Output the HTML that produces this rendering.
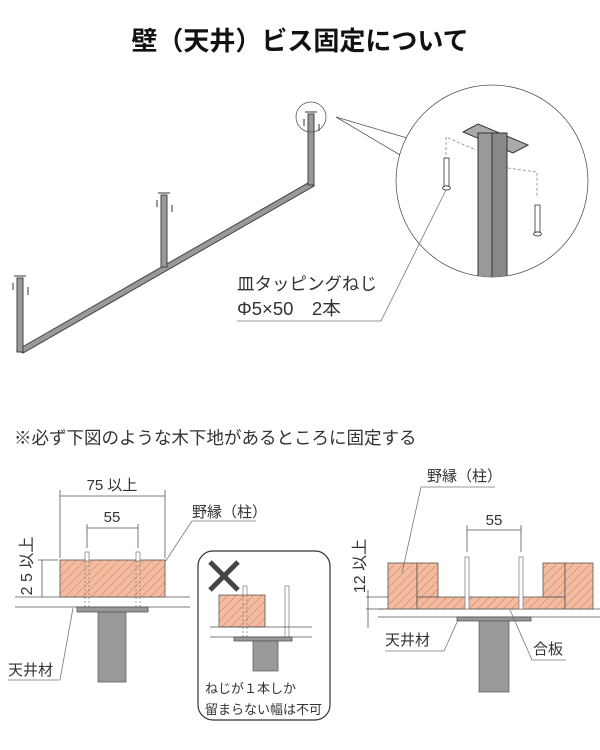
<!DOCTYPE html>
<html><head><meta charset="utf-8"><style>
body{margin:0;background:#fff}
svg{display:block}
text{font-family:"Liberation Sans","Noto Sans CJK JP",sans-serif;fill:#333}
</style></head><body>
<svg width="600" height="750" viewBox="0 0 600 750" xmlns="http://www.w3.org/2000/svg">
<defs>
<pattern id="h" width="6" height="6" patternUnits="userSpaceOnUse" patternTransform="rotate(45)">
<rect width="6" height="6" fill="#f3bca0"/><line x1="0" y1="0" x2="0" y2="6" stroke="#b86a4a" stroke-width="0.8"/>
</pattern>
<clipPath id="cc"><circle cx="492" cy="181" r="96"/></clipPath>
</defs>
<text x="300" y="50" text-anchor="middle" font-size="26" font-weight="bold" style="fill:#111">壁（天井）ビス固定について</text>

<!-- frame -->
<g stroke="#444" stroke-width="1" fill="#999">
<polygon points="17,350 308,183 314,186 23,353"/>
<rect x="17" y="278" width="6" height="74"/>
<rect x="161" y="195" width="6" height="72"/>
<rect x="308" y="114" width="6" height="71"/>
</g>
<g stroke="#333" stroke-width="1">
<line x1="14" y1="276" x2="26" y2="276"/><line x1="13" y1="283" x2="13" y2="290"/><line x1="28" y1="287" x2="28" y2="295"/>
<line x1="158" y1="193" x2="170" y2="193"/><line x1="157" y1="200" x2="157" y2="207"/><line x1="172" y1="205" x2="172" y2="212"/>
<line x1="305" y1="112" x2="317" y2="112"/><line x1="304" y1="119" x2="304" y2="126"/><line x1="319" y1="124" x2="319" y2="131"/>
</g>
<circle cx="311" cy="117" r="15" fill="none" stroke="#555" stroke-width="0.8"/>
<polyline points="336,117 407,138" fill="none" stroke="#555" stroke-width="0.8"/>
<polyline points="336,117 400,155" fill="none" stroke="#555" stroke-width="0.8"/>
<circle cx="492" cy="181" r="96" fill="#fff" stroke="#555" stroke-width="0.8"/>
<g clip-path="url(#cc)">
<polygon points="463,132 478,124 528,145 513,153" fill="#aaa" stroke="#333"/>
<rect x="478" y="133" width="14" height="150" fill="#999" stroke="#333"/>
<rect x="492" y="133" width="15" height="150" fill="#888" stroke="#333"/>
</g>
<g stroke="#888" stroke-dasharray="3,2" fill="none" stroke-width="0.8">
<polyline points="446,175 446,137 476,150"/><polyline points="508,168 537,172 537,198"/>
</g>
<g stroke="#333" fill="#fff" stroke-width="0.8">
<rect x="444" y="158" width="5" height="28"/><ellipse cx="446.5" cy="188" rx="4" ry="2"/>
<rect x="535" y="205" width="5" height="27"/><ellipse cx="537.5" cy="234" rx="4" ry="2"/>
</g>
<text x="237" y="290" font-size="17.5">皿タッピングねじ</text>
<text x="237" y="315" font-size="18.5">Φ5×50　2本</text>
<polyline points="237,321 381,321 446,190" fill="none" stroke="#777" stroke-width="0.8"/>

<text x="14" y="444" font-size="17.5">※必ず下図のような木下地があるところに固定する</text>

<!-- bottom left -->
<g stroke="#555" stroke-width="0.8" fill="none">
<line x1="60" y1="496" x2="165" y2="496"/><line x1="60" y1="490" x2="60" y2="558"/><line x1="165" y1="490" x2="165" y2="558"/>
<line x1="87" y1="528" x2="138" y2="528"/><line x1="87" y1="524" x2="87" y2="548"/><line x1="138" y1="524" x2="138" y2="548"/>
<line x1="42" y1="560" x2="42" y2="597"/><line x1="38" y1="560" x2="58" y2="560"/>
<line x1="15" y1="597" x2="190" y2="597"/><line x1="15" y1="607" x2="190" y2="607"/>
</g>
<text x="112" y="490" font-size="15" text-anchor="middle">75 以上</text>
<text x="112" y="522" font-size="15" text-anchor="middle">55</text>
<text transform="translate(32,566) rotate(-90)" font-size="16" text-anchor="middle">2 5 以上</text>
<rect x="60" y="560" width="105" height="37" fill="url(#h)" stroke="#555" stroke-width="0.8"/>
<g stroke="#777" stroke-width="0.7" fill="#fff">
<rect x="85" y="552" width="4" height="9"/><rect x="136" y="552" width="4" height="9"/>
</g>
<g stroke="#777" stroke-width="0.7" stroke-dasharray="2,2"><line x1="85" y1="561" x2="85" y2="612"/><line x1="89" y1="561" x2="89" y2="612"/><line x1="136" y1="561" x2="136" y2="612"/><line x1="140" y1="561" x2="140" y2="612"/></g>
<rect x="77" y="607" width="71" height="5" fill="#999" stroke="#444" stroke-width="0.7"/>
<rect x="98" y="612" width="28" height="70" fill="#999" stroke="#555" stroke-width="0.7"/>
<text x="192" y="517" font-size="15">野縁（柱）</text>
<polyline points="192,521 256,521" stroke="#777" stroke-width="0.8" fill="none"/><line x1="192" y1="521" x2="165" y2="562" stroke="#777" stroke-width="0.8"/>
<text x="8" y="675" font-size="15">天井材</text>
<polyline points="8,680 60,680 73,608" stroke="#777" stroke-width="0.8" fill="none"/>

<!-- box -->
<rect x="198" y="551" width="132" height="169" rx="15" fill="#fff" stroke="#333" stroke-width="1.2"/>
<g stroke="#444" stroke-width="5"><line x1="210" y1="562" x2="238" y2="590"/><line x1="238" y1="562" x2="210" y2="590"/></g>
<rect x="219" y="595" width="46" height="32" fill="url(#h)" stroke="#555" stroke-width="0.8"/>
<g stroke="#777" stroke-width="0.7" fill="#fff"><rect x="243" y="586" width="4" height="9"/><rect x="285" y="586" width="4" height="52"/></g>
<g stroke="#777" stroke-width="0.7" stroke-dasharray="2,2"><line x1="243" y1="595" x2="243" y2="638"/><line x1="247" y1="595" x2="247" y2="638"/></g>
<g stroke="#555" stroke-width="0.8"><line x1="210" y1="627" x2="312" y2="627"/><line x1="210" y1="637" x2="312" y2="637"/></g>
<rect x="234" y="637" width="58" height="4" fill="#999" stroke="#444" stroke-width="0.7"/>
<rect x="253" y="641" width="25" height="30" fill="#999" stroke="#555" stroke-width="0.7"/>
<text x="205" y="693" font-size="13">ねじが１本しか</text>
<text x="205" y="714" font-size="13">留まらない幅は不可</text>

<!-- right -->
<g stroke="#555" stroke-width="0.8" fill="none">
<line x1="467" y1="530" x2="521" y2="530"/><line x1="467" y1="525" x2="467" y2="552"/><line x1="521" y1="525" x2="521" y2="552"/>
<line x1="366" y1="597" x2="417" y2="597"/><line x1="366" y1="609" x2="388" y2="609"/><line x1="368" y1="590" x2="368" y2="628"/>
<line x1="378" y1="609" x2="600" y2="609"/><line x1="378" y1="617" x2="600" y2="617"/>
</g>
<text x="494" y="525" font-size="15" text-anchor="middle">55</text>
<text transform="translate(365,566) rotate(-90)" font-size="16" text-anchor="middle">12 以上</text>
<g fill="url(#h)" stroke="#555" stroke-width="0.8">
<rect x="388" y="563" width="29" height="46"/><rect x="417" y="563" width="21" height="34"/>
<rect x="417" y="597" width="148" height="12"/>
<rect x="543" y="563" width="22" height="34"/><rect x="565" y="563" width="28" height="46"/>
</g>
<g stroke="#777" stroke-width="0.7" fill="#fff"><rect x="465" y="557" width="4" height="52"/><rect x="519" y="557" width="4" height="52"/></g>
<rect x="457" y="617" width="74" height="4" fill="#999" stroke="#444" stroke-width="0.7"/>
<rect x="479" y="621" width="30" height="71" fill="#999" stroke="#555" stroke-width="0.7"/>
<text x="427" y="481" font-size="15">野縁（柱）</text>
<polyline points="495,487 421,487 402,573" stroke="#777" stroke-width="0.8" fill="none"/>
<text x="385" y="645" font-size="15">天井材</text>
<polyline points="385,651 444,651 458,620" stroke="#777" stroke-width="0.8" fill="none"/>
<text x="533" y="654" font-size="15">合板</text>
<polyline points="566,660 532,660 510,610" stroke="#777" stroke-width="0.8" fill="none"/>
</svg>
</body></html>
